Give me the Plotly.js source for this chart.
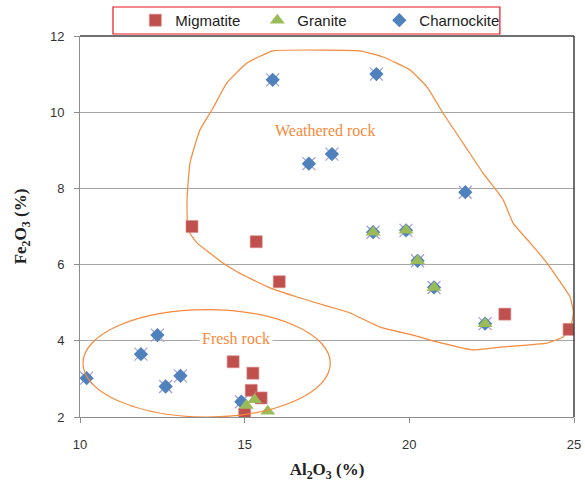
<!DOCTYPE html>
<html>
<head>
<meta charset="utf-8">
<script src="https://cdn.plot.ly/plotly-3.0.1.min.js"></script>
<style>
  html, body { margin: 0; padding: 0; background: #ffffff; }
  #chart { width: 585px; height: 485px; }
</style>
</head>
<body>
<div id="chart"></div>
<script>
// Al2O3 vs Fe2O3 (%) by rock type
const migmatiteAl = [13.4, 15.35, 16.05, 22.9, 24.85, 14.65, 15.25, 15.2, 15.5, 15.0];
const migmatiteFe = [7.0, 6.6, 5.55, 4.7, 4.3, 3.45, 3.15, 2.7, 2.5, 2.08];

const graniteAl = [18.9, 19.9, 20.25, 20.75, 22.3, 15.05, 15.3, 15.7];
const graniteFe = [6.85, 6.9, 6.1, 5.4, 4.45, 2.3, 2.45, 2.15];

const charnockiteAl = [15.85, 19.0, 16.95, 17.65, 21.7, 12.35, 11.85, 10.2, 12.6, 13.05, 14.9,
                       18.9, 19.9, 20.25, 20.75, 22.3];
const charnockiteFe = [10.85, 11.0, 8.65, 8.9, 7.9, 4.15, 3.65, 3.02, 2.8, 3.08, 2.4,
                       6.85, 6.9, 6.1, 5.4, 4.45];

// Hand-drawn outline around the weathered samples
const weatheredAl = [13.28, 13.25, 13.34, 13.64, 14.04, 14.46, 15.07, 15.86, 17.5, 18.5, 19.2,
                     20.02, 20.54, 21.02, 21.63, 22.24, 22.85, 23.15, 23.67, 24.18, 24.88, 24.98,
                     24.9, 24.67, 24.18, 22.85, 21.93, 20.84, 20.11, 19.11, 18.2, 17.59, 16.59,
                     15.77, 15.25, 14.77, 14.34, 13.95, 13.55, 13.28];
const weatheredFe = [6.91, 7.7, 8.67, 9.53, 10.11, 10.77, 11.29, 11.61, 11.63, 11.61, 11.45,
                     11.11, 10.66, 9.98, 9.19, 8.4, 7.7, 7.09, 6.57, 6.04, 5.15, 4.75,
                     4.35, 4.1, 3.94, 3.84, 3.76, 3.97, 4.15, 4.36, 4.73, 4.89, 5.15,
                     5.39, 5.6, 5.81, 6.04, 6.3, 6.57, 6.91];

// Ellipse around the fresh samples: [minAl, maxAl], [minFe, maxFe]
const freshAl = [10.09, 17.6];
const freshFe = [2.0, 4.82];

const xTicks = [10, 15, 20, 25];
const yTicks = [2, 4, 6, 8, 10, 12];

const ORANGE = '#F7893B';

const traces = [
  {
    x: weatheredAl, y: weatheredFe, type: 'scatter', mode: 'lines',
    line: { color: ORANGE, width: 1.2, shape: 'spline', smoothing: 0.4 },
    hoverinfo: 'skip', showlegend: false
  },
  {
    x: charnockiteAl, y: charnockiteFe, type: 'scatter', mode: 'markers',
    legendgroup: 'ch', showlegend: false, hoverinfo: 'skip',
    marker: { symbol: 'x-thin-open', size: 13, color: '#A29EDC', line: { color: '#A29EDC', width: 1.2 } }
  },
  {
    x: charnockiteAl, y: charnockiteFe, type: 'scatter', mode: 'markers',
    name: 'Charnockite', legendgroup: 'ch', legendrank: 3,
    marker: { symbol: 'diamond', size: 11, color: '#4F81BD', line: { width: 0 } }
  },
  {
    x: migmatiteAl, y: migmatiteFe, type: 'scatter', mode: 'markers',
    name: 'Migmatite', legendrank: 1,
    marker: { symbol: 'square', size: 12, color: '#C0504D', line: { color: '#D98B89', width: 0.6 } }
  },
  {
    x: graniteAl, y: graniteFe, type: 'scatter', mode: 'markers',
    name: 'Granite', legendrank: 2,
    marker: { symbol: 'triangle-up', size: 13, color: '#9BBB59', line: { width: 0 } }
  }
];

const layout = {
  width: 585, height: 485,
  margin: { l: 80, r: 11, t: 36, b: 68, autoexpand: false },
  paper_bgcolor: '#ffffff', plot_bgcolor: '#ffffff',
  font: { family: '"Liberation Sans", Arial, sans-serif', color: '#333333' },
  xaxis: {
    range: [10, 25], tickvals: xTicks, ticktext: xTicks.map(String),
    showgrid: false, zeroline: false,
    showline: true, linecolor: '#8C8C8C', linewidth: 1,
    ticks: 'outside', ticklen: 5, tickcolor: '#8C8C8C',
    ticklabelstandoff: 10,
    tickfont: { size: 13, color: '#333333' },
    title: {
      text: 'Al<sub>2</sub>O<sub>3</sub> (%)', standoff: 12,
      font: { family: '"Liberation Serif", "Times New Roman", serif', size: 17, color: '#222222', weight: 'bold' }
    }
  },
  yaxis: {
    range: [2, 12], tickvals: yTicks, ticktext: yTicks.map(String),
    showgrid: true, gridcolor: '#A6A6A6', gridwidth: 1, zeroline: false,
    showline: true, linecolor: '#8C8C8C', linewidth: 1,
    ticks: 'outside', ticklen: 5, tickcolor: '#8C8C8C',
    ticklabelstandoff: 7,
    tickfont: { size: 13, color: '#333333' },
    title: {
      text: 'Fe<sub>2</sub>O<sub>3</sub> (%)', standoff: 18,
      font: { family: '"Liberation Serif", "Times New Roman", serif', size: 17, color: '#222222', weight: 'bold' }
    }
  },
  showlegend: true,
  legend: {
    orientation: 'h', x: 0.112, xanchor: 'left', y: 1.041, yanchor: 'middle',
    bgcolor: 'rgba(0,0,0,0)', borderwidth: 0,
    entrywidth: 77, entrywidthmode: 'pixels',
    font: { size: 15, color: '#222222' },
    traceorder: 'normal'
  },
  shapes: [
    {
      type: 'circle', xref: 'x', yref: 'y',
      x0: freshAl[0], x1: freshAl[1], y0: freshFe[0], y1: freshFe[1],
      line: { color: ORANGE, width: 1.2 }, layer: 'above'
    },
    // darker frame on the top and right of the plot area
    { type: 'line', xref: 'paper', yref: 'paper', x0: 0, x1: 1, y0: 1, y1: 1,
      line: { color: '#404040', width: 1.5 } },
    { type: 'line', xref: 'paper', yref: 'paper', x0: 1, x1: 1, y0: 0, y1: 1,
      line: { color: '#404040', width: 1.5 } },
    // legend box
    { type: 'rect', xref: 'paper', yref: 'paper', x0: 0.0668, x1: 0.850, y0: 1.0052, y1: 1.0761,
      line: { color: '#E8141B', width: 1.2 }, fillcolor: 'rgba(0,0,0,0)' }
  ],
  annotations: [
    {
      x: 14.75, y: 4.05, xref: 'x', yref: 'y', text: 'Fresh rock', showarrow: false,
      font: { family: '"Liberation Serif", "Times New Roman", serif', size: 16, color: ORANGE },
      bgcolor: '#ffffff', borderpad: 2
    },
    {
      x: 17.45, y: 9.53, xref: 'x', yref: 'y', text: 'Weathered rock', showarrow: false,
      font: { family: '"Liberation Serif", "Times New Roman", serif', size: 16, color: ORANGE }
    }
  ]
};

Plotly.newPlot('chart', traces, layout, { displayModeBar: false, staticPlot: true });
</script>
</body>
</html>
